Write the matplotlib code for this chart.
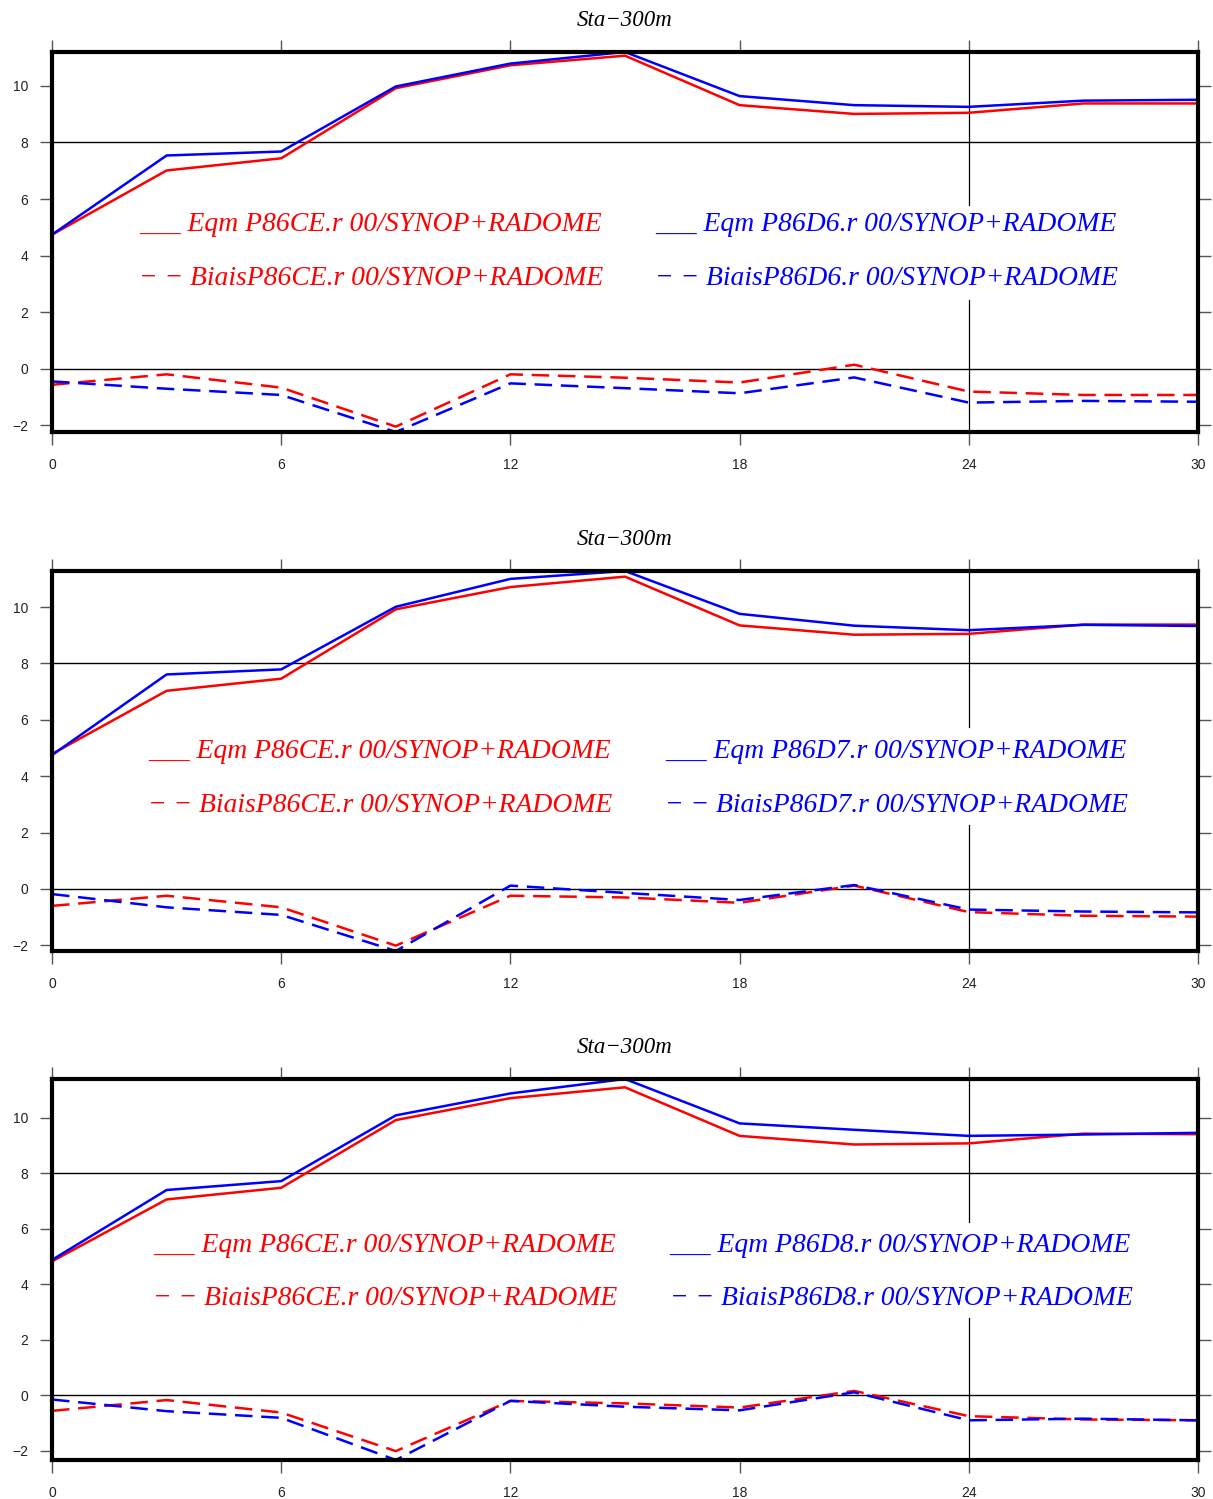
import matplotlib
matplotlib.use("Agg")
import matplotlib.pyplot as plt

hours = [0, 3, 6, 9, 12, 15, 18, 21, 24, 27, 30]
xticks = [0, 6, 12, 18, 24, 30]
yticks = [-2, 0, 2, 4, 6, 8, 10]
title = "Sta\u2212300m"
ref_name = "P86CE.r 00/SYNOP+RADOME"
exp_names = ["P86D6.r 00/SYNOP+RADOME", "P86D7.r 00/SYNOP+RADOME", "P86D8.r 00/SYNOP+RADOME"]

# Panel 1
p1_eqm_ref = [4.74, 7.01, 7.44, 9.92, 10.73, 11.07, 9.32, 9.01, 9.05, 9.38, 9.38]
p1_eqm_exp = [4.74, 7.54, 7.68, 9.98, 10.79, 11.20, 9.64, 9.32, 9.26, 9.48, 9.51]
p1_bias_ref = [-0.57, -0.20, -0.67, -2.05, -0.20, -0.32, -0.49, 0.14, -0.81, -0.93, -0.93]
p1_bias_exp = [-0.45, -0.71, -0.93, -2.24, -0.52, -0.69, -0.87, -0.31, -1.20, -1.14, -1.17]
# Panel 2
p2_eqm_ref = [4.79, 7.03, 7.46, 9.92, 10.71, 11.08, 9.35, 9.02, 9.05, 9.38, 9.38]
p2_eqm_exp = [4.75, 7.61, 7.79, 10.01, 11.00, 11.28, 9.76, 9.34, 9.18, 9.37, 9.33]
p2_bias_ref = [-0.60, -0.24, -0.65, -2.01, -0.24, -0.30, -0.49, 0.12, -0.82, -0.95, -0.98]
p2_bias_exp = [-0.18, -0.65, -0.92, -2.20, 0.12, -0.14, -0.39, 0.14, -0.73, -0.80, -0.83]
# Panel 3
p3_eqm_ref = [4.82, 7.05, 7.47, 9.91, 10.70, 11.09, 9.34, 9.03, 9.07, 9.42, 9.40]
p3_eqm_exp = [4.87, 7.39, 7.71, 10.08, 10.87, 11.39, 9.79, 9.56, 9.34, 9.39, 9.45]
p3_bias_ref = [-0.57, -0.18, -0.63, -2.02, -0.21, -0.30, -0.45, 0.15, -0.76, -0.88, -0.91]
p3_bias_exp = [-0.16, -0.58, -0.82, -2.34, -0.21, -0.42, -0.55, 0.10, -0.91, -0.85, -0.91]

panels = [
    (p1_eqm_ref, p1_eqm_exp, p1_bias_ref, p1_bias_exp),
    (p2_eqm_ref, p2_eqm_exp, p2_bias_ref, p2_bias_exp),
    (p3_eqm_ref, p3_eqm_exp, p3_bias_ref, p3_bias_exp),
]

W, H = 1213, 1499
fig = plt.figure(figsize=(W / 100, H / 100), dpi=100)
# layout in pixels: (top, bottom)
frames = [(52, 432), (571, 951), (1079, 1460)]
left_px, right_px = 52, 1198
legend_x = [(0.0759, 0.526), (0.0838, 0.535), (0.0881, 0.539)]
legend_y = [(0.547, 0.405), (0.524, 0.384), (0.564, 0.423)]
vgap = [(0.347, 0.597), (0.332, 0.589), (0.373, 0.625)]

serif = ["Liberation Serif", "DejaVu Serif"]
RED = "#ff0000"
BLUE = "#0000ff"
LFS = 19.9

for i, (eref, eexp, bref, bexp) in enumerate(panels):
    top, bot = frames[i]
    ax = fig.add_axes([left_px / W, 1 - bot / H, (right_px - left_px) / W, (bot - top) / H])
    allv = eref + eexp + bref + bexp
    ax.set_xlim(0, 30)
    ax.set_ylim(min(allv), max(allv))
    ax.axhline(0, color="black", lw=1.0, zorder=1)
    ax.axhline(8, color="black", lw=1.0, zorder=1)
    ax.axvline(24, ymin=vgap[i][1], ymax=1, color="black", lw=0.9, zorder=1)
    ax.axvline(24, ymin=0, ymax=vgap[i][0], color="black", lw=0.9, zorder=1)

    ax.plot(hours, eref, color=RED, lw=1.8, zorder=3)
    ax.plot(hours, eexp, color=BLUE, lw=1.8, zorder=3)
    ax.plot(hours, bref, color=RED, lw=1.8, dashes=(7, 3.5), zorder=3)
    ax.plot(hours, bexp, color=BLUE, lw=1.8, dashes=(7, 3.5), zorder=3)

    for s in ax.spines.values():
        s.set_linewidth(3.0)
        s.set_color("black")
        s.set_zorder(5)
    ax.set_xticks(xticks)
    ax.set_yticks(yticks)
    ax.tick_params(axis="both", direction="out", length=9, width=1.0, color="#555555",
                   labelsize=10, labelcolor="#222222", top=True, right=True,
                   labeltop=False, labelright=False)
    ax.tick_params(axis="x", pad=10)
    ax.tick_params(axis="y", pad=8)
    for lab in ax.get_xticklabels() + ax.get_yticklabels():
        lab.set_family(["Liberation Sans", "DejaVu Sans"])

    ax.set_title(title, fontsize=16.5, style="italic", family=serif, pad=19)

    xr, xb = legend_x[i]
    y1, y2 = legend_y[i]
    ax.text(xr, y1, "___ Eqm " + ref_name, transform=ax.transAxes, color=RED,
            fontsize=LFS, style="italic", family=serif, va="center", ha="left")
    ax.text(xr, y2, "\u2212 \u2212 Biais" + ref_name, transform=ax.transAxes, color=RED,
            fontsize=LFS, style="italic", family=serif, va="center", ha="left")
    ax.text(xb, y1, "___ Eqm " + exp_names[i], transform=ax.transAxes, color=BLUE,
            fontsize=LFS, style="italic", family=serif, va="center", ha="left")
    ax.text(xb, y2, "\u2212 \u2212 Biais" + exp_names[i], transform=ax.transAxes, color=BLUE,
            fontsize=LFS, style="italic", family=serif, va="center", ha="left")

fig.savefig("out.png", dpi=100)
